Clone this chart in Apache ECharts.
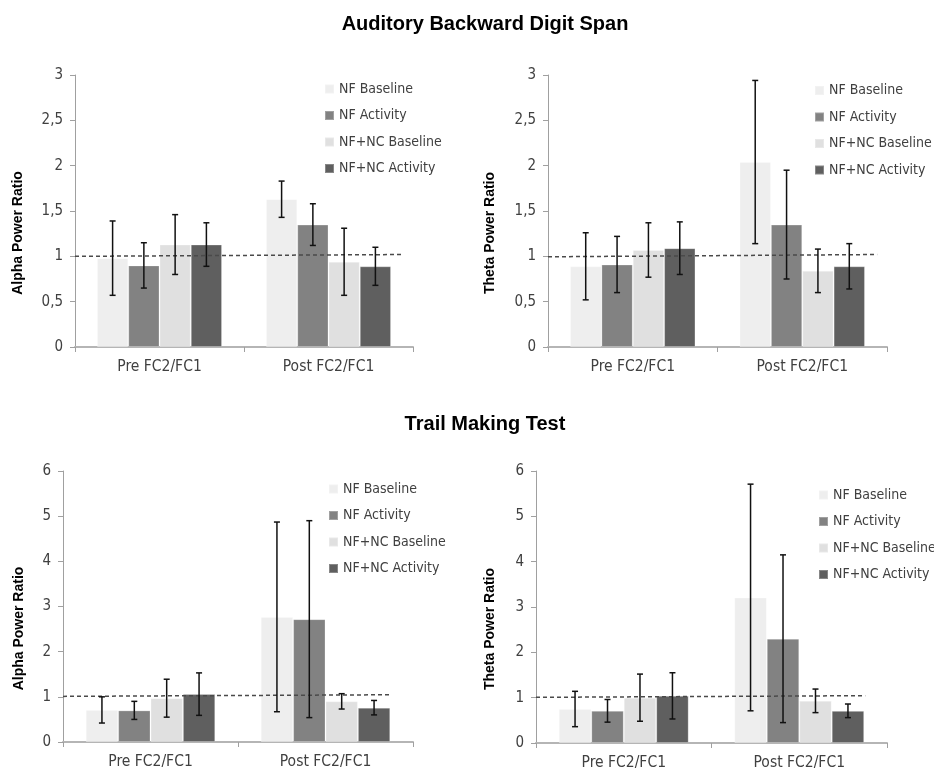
<!DOCTYPE html>
<html>
<head>
<meta charset="utf-8">
<script src="https://cdn.jsdelivr.net/npm/echarts@6/dist/echarts.min.js"></script>
<style>
html,body{margin:0;padding:0;background:#fff;}
#chart{width:934px;height:771px;}
</style>
</head>
<body>
<div id="chart"></div>
<script>
// ---- data ----
const categories = ['Pre FC2/FC1', 'Post FC2/FC1'];
const seriesNames = ['NF Baseline', 'NF Activity', 'NF+NC Baseline', 'NF+NC Activity'];
const seriesColors = ['#eeeeee', '#828282', '#e0e0e0', '#5f5f5f'];
const titles = ['Auditory Backward Digit Span', 'Trail Making Test'];
const yAxisNames = ['Alpha Power Ratio', 'Theta Power Ratio', 'Alpha Power Ratio', 'Theta Power Ratio'];
const yMaxes = [3, 3, 6, 6];
const yIntervals = [0.5, 0.5, 1, 1];

// values per series: [Pre, Post]
const digitAlphaValues = [[0.98, 1.63], [0.90, 1.35], [1.13, 0.94], [1.13, 0.89]];
const digitAlphaErrors = [[0.41, 0.20], [0.25, 0.23], [0.33, 0.37], [0.24, 0.21]];
const digitThetaValues = [[0.89, 2.04], [0.91, 1.35], [1.07, 0.84], [1.09, 0.89]];
const digitThetaErrors = [[0.37, 0.90], [0.31, 0.60], [0.30, 0.24], [0.29, 0.25]];
const trailAlphaValues = [[0.71, 2.77], [0.70, 2.72], [0.97, 0.90], [1.06, 0.76]];
const trailAlphaErrors = [[0.29, 2.10], [0.20, 2.18], [0.42, 0.17], [0.47, 0.16]];
const trailThetaValues = [[0.75, 3.21], [0.71, 2.30], [1.00, 0.93], [1.04, 0.71]];
const trailThetaErrors = [[0.39, 2.50], [0.25, 1.85], [0.52, 0.26], [0.51, 0.15]];

// dashed reference line per panel: [fraction of axis length, value]
const digitAlphaRef = [[0, 1.00], [0.97, 1.02]];
const digitThetaRef = [[0, 0.995], [0.971, 1.02]];
const trailAlphaRef = [[0, 1.01], [0.934, 1.046]];
const trailThetaRef = [[0, 1.007], [0.938, 1.044]];

const panelValues = [digitAlphaValues, digitThetaValues, trailAlphaValues, trailThetaValues];
const panelErrors = [digitAlphaErrors, digitThetaErrors, trailAlphaErrors, trailThetaErrors];
const panelRefs = [digitAlphaRef, digitThetaRef, trailAlphaRef, trailThetaRef];

// ---- layout ----
const grids = [
  {left: 75, top: 75, width: 338, height: 272},
  {left: 548, top: 75, width: 339, height: 272},
  {left: 63, top: 471, width: 350, height: 271},
  {left: 536, top: 471, width: 351, height: 272}
];
const nameGaps = [50, 51, 37, 39];
const legendPos = [
  {left: 324, top: 82},
  {left: 814, top: 83.5},
  {left: 328, top: 482},
  {left: 818, top: 488}
];
const CAT_GAP = 0.26;
const narrow = "'DejaVu Sans Condensed', 'Liberation Sans', sans-serif";

const xAxes = [], yAxes = [], series = [], legends = [];
grids.forEach((g, p) => {
  xAxes.push({
    type: 'category', gridIndex: p, data: categories,
    axisLine: {lineStyle: {color: '#b5b5b5', width: 2}},
    axisTick: {show: true, length: 5, lineStyle: {color: '#a0a0a0', width: 1}},
    axisLabel: {color: '#404040', fontSize: 15.5, fontFamily: narrow, margin: 12},
    splitLine: {show: false}
  });
  yAxes.push({
    type: 'value', gridIndex: p, min: 0, max: yMaxes[p], interval: yIntervals[p],
    name: yAxisNames[p], nameLocation: 'middle', nameRotate: 90, nameGap: nameGaps[p],
    nameTextStyle: {fontWeight: 'bold', fontSize: 14, color: '#000', fontFamily: "'Liberation Sans', Arial, sans-serif", padding: [0, 44, 0, 0]},
    axisLine: {show: true, lineStyle: {color: '#a0a0a0', width: 1}},
    axisTick: {show: true, length: 5, lineStyle: {color: '#a0a0a0'}},
    axisLabel: {color: '#404040', fontSize: 15, fontFamily: narrow, margin: 12,
      formatter: v => String(v).replace('.', ',')},
    splitLine: {show: false}
  });
  legends.push({
    left: legendPos[p].left, top: legendPos[p].top, orient: 'vertical',
    padding: 0,
    itemWidth: 9, itemHeight: 9, itemGap: 12.5, icon: 'rect',
    data: seriesNames,
    textStyle: {color: '#404040', fontSize: 14, fontFamily: narrow},
    selectedMode: false
  });
});
// hidden value x axes for the dashed reference line
grids.forEach((g, p) => {
  xAxes.push({type: 'value', gridIndex: p, min: 0, max: 1, show: false});
});

grids.forEach((g, p) => {
  seriesNames.forEach((name, s) => {
    series.push({
      type: 'bar', name: name, xAxisIndex: p, yAxisIndex: p,
      data: panelValues[p][s],
      barGap: 0, barCategoryGap: (CAT_GAP * 100) + '%',
      itemStyle: {color: seriesColors[s], borderColor: 'rgba(255,255,255,0.25)', borderWidth: 1},
      emphasis: {disabled: true},
      z: 2
    });
  });
  // reference dashed line
  series.push({
    type: 'line', name: 'ref' + p, xAxisIndex: 4 + p, yAxisIndex: p,
    data: panelRefs[p], symbol: 'none', silent: true,
    lineStyle: {color: '#4a4a4a', width: 1.5, type: [4, 3]},
    z: 4
  });
  // error bars
  seriesNames.forEach((name, s) => {
    const data = panelValues[p][s].map((v, c) => [c, v, panelErrors[p][s][c]]);
    series.push({
      type: 'custom', name: 'err' + p + '_' + s, xAxisIndex: p, yAxisIndex: p,
      data: data, silent: true, z: 5,
      renderItem: (params, api) => {
        const c = api.value(0), v = api.value(1), e = api.value(2);
        const band = api.size([1, 0])[0];
        const bw = band * (1 - CAT_GAP) / 4;
        const center = api.coord([c, v])[0];
        const x = center + (s - 1.5) * bw;
        const top = api.coord([c, v + e])[1];
        const bot = api.coord([c, v - e])[1];
        const cap = 3;
        const style = {stroke: '#111', lineWidth: 1.5, fill: null};
        return {
          type: 'group', children: [
            {type: 'line', shape: {x1: x, y1: top, x2: x, y2: bot}, style: style},
            {type: 'line', shape: {x1: x - cap, y1: top, x2: x + cap, y2: top}, style: style},
            {type: 'line', shape: {x1: x - cap, y1: bot, x2: x + cap, y2: bot}, style: style}
          ]
        };
      }
    });
  });
});

const option = {
  animation: false,
  backgroundColor: '#ffffff',
  title: [
    {text: titles[0], left: 480, top: 9, textAlign: 'center',
      textStyle: {fontSize: 20, fontWeight: 'bold', color: '#000', fontFamily: "'Liberation Sans', Arial, sans-serif"}},
    {text: titles[1], left: 480, top: 409, textAlign: 'center',
      textStyle: {fontSize: 20, fontWeight: 'bold', color: '#000', fontFamily: "'Liberation Sans', Arial, sans-serif"}}
  ],
  grid: grids.map(g => Object.assign({containLabel: false}, g)),
  xAxis: xAxes,
  yAxis: yAxes,
  legend: legends,
  series: series
};

const chart = echarts.init(document.getElementById('chart'), null, {renderer: 'canvas'});
chart.setOption(option);
</script>
</body>
</html>
